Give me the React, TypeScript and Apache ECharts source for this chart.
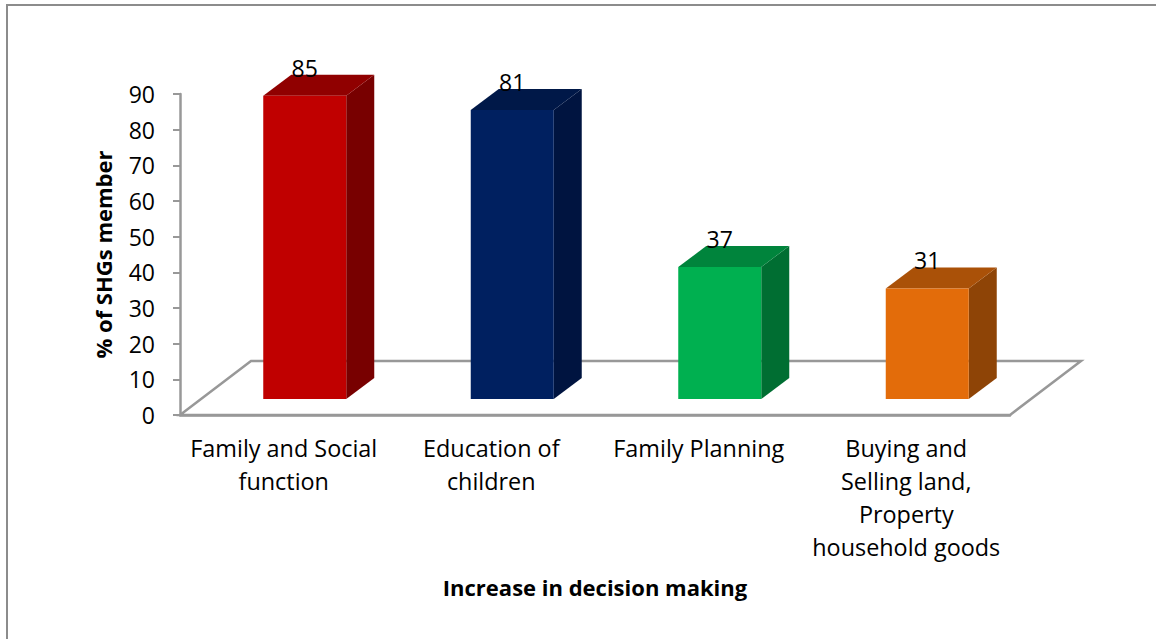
import React, { useEffect, useRef } from "react";
import * as echarts from "echarts";

const categories = [
  "Family and Social\nfunction",
  "Education of\nchildren",
  "Family Planning",
  "Buying and\nSelling land,\nProperty\nhousehold goods",
];
const memberShare = [85, 81, 37, 31];
const frontColors = ["#C00000", "#002060", "#00B050", "#E36C0A"];
const topColors = ["#900000", "#001848", "#00843C", "#AA5108"];
const sideColors = ["#780000", "#001440", "#006E32", "#8E4406"];

const FONT = "'Open Sans', sans-serif";
const GRID = { left: 180, right: 146, top: 94, bottom: 224 };
const FLOOR_DX = 71;
const FLOOR_DY = 54;
const BAR_SHIFT = 21;
const BAR_LIFT = 16;
const DEPTH_X = 28;
const DEPTH_Y = 21;
const AXIS_GRAY = "#989898";

function renderFloor(params: any) {
  const { x, y, width, height } = params.coordSys;
  const baseY = y + height;
  return {
    type: "polygon",
    shape: {
      points: [
        [x, baseY],
        [x + FLOOR_DX, baseY - FLOOR_DY],
        [x + width + FLOOR_DX, baseY - FLOOR_DY],
        [x + width, baseY],
      ],
    },
    style: { fill: "#FFFFFF", stroke: AXIS_GRAY, lineWidth: 2.5 },
  };
}

function renderBlock(params: any, api: any) {
  const i = params.dataIndex;
  const value = api.value(1);
  const [cx, baseY] = api.coord([api.value(0), 0]);
  const [, topY] = api.coord([api.value(0), value]);
  const barW = api.size([1, 0])[0] * 0.4;
  const left = cx + BAR_SHIFT - barW / 2;
  const right = left + barW;
  const bottom = baseY - BAR_LIFT;
  const top = topY - BAR_LIFT;
  return {
    type: "group",
    children: [
      {
        type: "polygon",
        shape: {
          points: [
            [right, top],
            [right + DEPTH_X, top - DEPTH_Y],
            [right + DEPTH_X, bottom - DEPTH_Y],
            [right, bottom],
          ],
        },
        style: { fill: sideColors[i] },
      },
      {
        type: "polygon",
        shape: {
          points: [
            [left, top],
            [left + DEPTH_X, top - DEPTH_Y],
            [right + DEPTH_X, top - DEPTH_Y],
            [right, top],
          ],
        },
        style: { fill: topColors[i] },
      },
      {
        type: "rect",
        shape: { x: left, y: top, width: barW, height: bottom - top },
        style: { fill: frontColors[i] },
      },
      {
        type: "text",
        style: {
          text: String(value),
          x: left + barW / 2,
          y: top - 28,
          align: "center",
          verticalAlign: "middle",
          font: `23px ${FONT}`,
          fill: "#000000",
        },
      },
    ],
  };
}

export default function App() {
  const ref = useRef<HTMLDivElement>(null);

  useEffect(() => {
    const chart = echarts.init(ref.current!, undefined, { renderer: "svg" });
    chart.setOption({
      animation: false,
      backgroundColor: "#FFFFFF",
      grid: GRID,
      graphic: [
        {
          type: "polyline",
          silent: true,
          shape: { points: [[7, 639], [7, 5], [1156, 5]] },
          style: { fill: "none", stroke: "#8C8C8C", lineWidth: 2 },
        },
      ],
      xAxis: {
        type: "category",
        data: categories,
        name: "Increase in decision making",
        nameLocation: "middle",
        nameGap: 161,
        nameTextStyle: { fontFamily: FONT, fontSize: 22, fontWeight: "bold", color: "#000000" },
        axisLine: { show: true, lineStyle: { color: AXIS_GRAY, width: 2.5 } },
        axisTick: { show: false },
        axisLabel: {
          interval: 0,
          margin: 16,
          fontFamily: FONT,
          fontSize: 23.4,
          lineHeight: 33,
          color: "#000000",
          align: "center",
          verticalAlign: "top",
        },
      },
      yAxis: {
        type: "value",
        min: 0,
        max: 90,
        interval: 10,
        name: "% of SHGs member",
        nameLocation: "middle",
        nameGap: 66,
        nameTextStyle: { fontFamily: FONT, fontSize: 22, fontWeight: "bold", color: "#000000" },
        axisLine: { show: true, lineStyle: { color: AXIS_GRAY, width: 2.5 } },
        axisTick: { show: true, length: 7, lineStyle: { color: AXIS_GRAY, width: 2 } },
        splitLine: { show: false },
        axisLabel: { margin: 25, fontFamily: FONT, fontSize: 23, color: "#000000" },
      },
      series: [
        {
          type: "custom",
          coordinateSystem: "cartesian2d",
          renderItem: renderFloor,
          data: [[0, 0]],
          silent: true,
          z: 1,
        },
        {
          type: "custom",
          coordinateSystem: "cartesian2d",
          renderItem: renderBlock,
          encode: { x: 0, y: 1 },
          data: memberShare.map((v, i) => [i, v]),
          clip: false,
          z: 2,
        },
      ],
    });
    return () => chart.dispose();
  }, []);

  return (
    <div
      ref={ref}
      style={{ position: "fixed", left: 0, top: 0, width: 1156, height: 639 }}
    />
  );
}
